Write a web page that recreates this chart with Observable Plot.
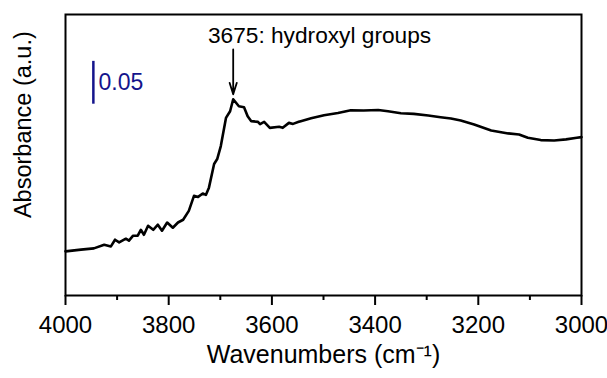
<!DOCTYPE html>
<html>
<head>
<meta charset="utf-8">
<script src="https://cdn.jsdelivr.net/npm/d3@7"></script>
<script src="https://cdn.jsdelivr.net/npm/@observablehq/plot@0.6"></script>
<style>
  html, body { margin: 0; padding: 0; background: #fff; }
  #chart svg { display: block; }
</style>
</head>
<body>
<div id="chart"></div>
<script>
const wavenumbers = [4000, 3970, 3945, 3925, 3912, 3904, 3896, 3883, 3877, 3869, 3860, 3854, 3848, 3840, 3830, 3821, 3813, 3803, 3792, 3782, 3772, 3761, 3751, 3743, 3734, 3728, 3722, 3712, 3706, 3699, 3689, 3681, 3675, 3664, 3654, 3647, 3640, 3627, 3623, 3615, 3604, 3586, 3579, 3567, 3559, 3548, 3544, 3524, 3499, 3472, 3447, 3422, 3394, 3375, 3350, 3325, 3297, 3273, 3253, 3234, 3208, 3175, 3142, 3121, 3104, 3079, 3053, 3030, 3009, 3000];
const absorbance = [0.0515, 0.0535, 0.0550, 0.0593, 0.0573, 0.0651, 0.0620, 0.0663, 0.0640, 0.0698, 0.0698, 0.0767, 0.0709, 0.0814, 0.0767, 0.0826, 0.0756, 0.0852, 0.0791, 0.0852, 0.0884, 0.0988, 0.1163, 0.1151, 0.1190, 0.1174, 0.1259, 0.1535, 0.1593, 0.1744, 0.2073, 0.2151, 0.2291, 0.2209, 0.2198, 0.2093, 0.2035, 0.2027, 0.2000, 0.2027, 0.1957, 0.1969, 0.1957, 0.2015, 0.2003, 0.2027, 0.2035, 0.2070, 0.2105, 0.2131, 0.2163, 0.2159, 0.2166, 0.2151, 0.2128, 0.2120, 0.2101, 0.2081, 0.2066, 0.2043, 0.1997, 0.1927, 0.1892, 0.1880, 0.1841, 0.1814, 0.1810, 0.1822, 0.1841, 0.1849];
const majorTicks = [4000, 3800, 3600, 3400, 3200, 3000];
const minorTicks = [3900, 3700, 3500, 3300, 3100];
const peakPosition = [3675];
const peakLabel = ["3675: hydroxyl groups"];
const scaleBarValue = [0.05];
const scaleBarLabel = ["0.05"];
const xLabel = ["Wavenumbers (cm\u207B\u00B9)"];
const yLabel = ["Absorbance (a.u.)"];

const spectrum = wavenumbers.map((w, i) => ({w, a: absorbance[i]}));
const barColor = "#14148c";
const barX = 3946, barBase = 0.2233;

const chart = Plot.plot({
  width: 607,
  height: 378,
  marginLeft: 65,
  marginRight: 26,
  marginTop: 14,
  marginBottom: 83,
  style: {fontFamily: "'Liberation Sans', Arial, sans-serif", fontSize: "24px", color: "#000", background: "#fff"},
  x: {domain: [4000, 3000], axis: null},
  y: {domain: [0, 0.328], axis: null},
  marks: [
    Plot.axisX(minorTicks, {tickSize: 5, strokeWidth: 2, tickFormat: () => "", label: null}),
    Plot.axisX(majorTicks, {tickSize: 10, strokeWidth: 2, tickPadding: 10, fontSize: 24, tickFormat: d => String(d), label: null}),
    Plot.frame({stroke: "#000", strokeWidth: 2}),
    Plot.line(spectrum, {x: "w", y: "a", stroke: "#000", strokeWidth: 2.6, strokeLinejoin: "round"}),
    Plot.arrow(peakPosition, {x1: d => d, x2: d => d, y1: 0.2872, y2: 0.2349, stroke: "#000", strokeWidth: 1.8, headLength: 10, headAngle: 35}),
    Plot.text(peakLabel, {x: 3724, y: 0.3035, text: d => d, textAnchor: "start", fontSize: 22.7, fill: "#000"}),
    Plot.ruleX(scaleBarValue, {x: barX, y1: barBase, y2: d => barBase + d, stroke: barColor, strokeWidth: 2.5}),
    Plot.text(scaleBarLabel, {x: 3936, y: barBase + 0.025, text: d => d, textAnchor: "start", fontSize: 23, fill: barColor}),
    Plot.text(xLabel, {frameAnchor: "bottom", dy: 67, text: d => d, fontSize: 25, fill: "#000"}),
    Plot.text(yLabel, {x: 4081, y: 0.1994, rotate: -90, text: d => d, fontSize: 23.5, fill: "#000", clip: false})
  ]
});
document.getElementById("chart").appendChild(chart);
</script>
</body>
</html>
